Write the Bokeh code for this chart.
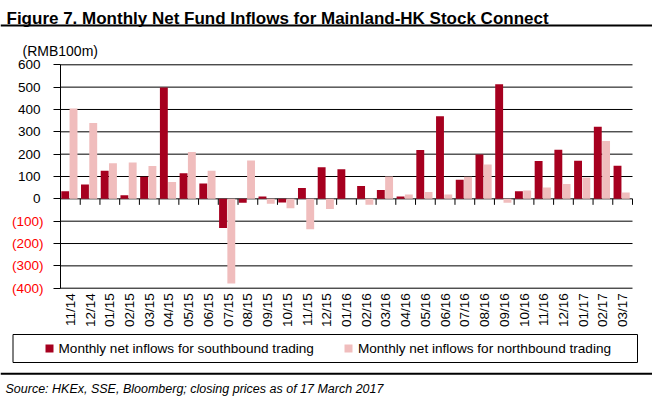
import math
import numpy as np
from bokeh.plotting import figure
from bokeh.models import (Range1d, FixedTicker, Label, ColumnDataSource, LinearAxis,
                          BoxAnnotation, Legend, LegendItem, Span)
from bokeh.embed import file_html
from bokeh.resources import INLINE

# ---------------- data ----------------
months = ["11/14", "12/14",
          "01/15", "02/15", "03/15", "04/15", "05/15", "06/15",
          "07/15", "08/15", "09/15", "10/15", "11/15", "12/15",
          "01/16", "02/16", "03/16", "04/16", "05/16", "06/16",
          "07/16", "08/16", "09/16", "10/16", "11/16", "12/16",
          "01/17", "02/17", "03/17"]
southbound = [34, 64, 126, 16, 99, 498, 115, 69, -130, -18,
              10, -16, 48, 141, 132, 57, 40, 10, 219, 370,
              85, 198, 513, 34, 169, 220, 171, 323, 148]
northbound = [404, 340, 159, 163, 147, 75, 210, 126, -379, 172,
              -22, -42, -136, -45, 0, -27, 100, 19, 31, 19,
              99, 154, -18, 37, 51, 66, 96, 259, 28]
y_ticks = [-400, -300, -200, -100, 0, 100, 200, 300, 400, 500, 600]
title_text = "Figure 7. Monthly Net Fund Inflows for Mainland-HK Stock Connect"
unit_text = "(RMB100m)"
source_text = "Source: HKEx, SSE, Bloomberg; closing prices as of 17 March 2017"
south_label = "Monthly net inflows for southbound trading"
north_label = "Monthly net inflows for northbound trading"

# ---------------- style / layout ----------------
SOUTH = "#A6001F"
NORTH = "#F0BDBD"
RED = "#FF0000"
FONT = "Liberation Sans"
W, H = 652, 396
PLOT_L, PLOT_R = 60.0, 632.0       # pixel extent of the category axis
PLOT_T, PLOT_B = 64.3, 287.7       # pixel rows of the top / bottom tick
n = len(months)
cat_px = (PLOT_R - PLOT_L) / n
val_px = (PLOT_B - PLOT_T) / (y_ticks[-1] - y_ticks[0])
x_start = -0.5 - PLOT_L / cat_px
x_end = n - 0.5 + (W - PLOT_R) / cat_px
y_end = y_ticks[-1] + PLOT_T / val_px
y_start = y_ticks[0] - (H - PLOT_B) / val_px

def sy(px_from_top):
    return H - px_from_top

p = figure(width=W, height=H,
           x_range=Range1d(x_start, x_end), y_range=Range1d(y_start, y_end),
           output_backend="svg", toolbar_location=None, title=None,
           min_border_left=0, min_border_right=0, min_border_top=0, min_border_bottom=0)
p.outline_line_color = None
p.background_fill_color = "white"
p.border_fill_color = "white"
p.xgrid.visible = False
p.ygrid.visible = False

xs = np.arange(n)
src = ColumnDataSource(dict(x_s=xs - 0.26, x_n=xs + 0.16, south=southbound, north=northbound))

# gridlines (behind bars)
gy = np.array(y_ticks, dtype=float)
p.segment(x0=np.full(len(gy), -0.5), x1=np.full(len(gy), n - 0.5), y0=gy, y1=gy,
          line_color="black", line_width=1, level="underlay")

r1 = p.vbar(x="x_s", top="south", width=0.40, source=src, fill_color=SOUTH, line_color=None)
r2 = p.vbar(x="x_n", top="north", width=0.40, source=src, fill_color=NORTH, line_color=None)

# square swatches used only by the legend (a single undrawn NaN point)
leg_src = ColumnDataSource(dict(x=np.array([np.nan]), y=np.array([np.nan])))
s1 = p.scatter(x="x", y="y", source=leg_src, marker="square", size=9,
               fill_color=SOUTH, line_color=None)
s2 = p.scatter(x="x", y="y", source=leg_src, marker="square", size=9,
               fill_color=NORTH, line_color=None)

# tick marks on the zero line at category boundaries
bounds = np.arange(n + 1) - 0.5
tick_len = 6 / val_px
p.segment(x0=bounds, y0=np.zeros(len(bounds)), x1=bounds,
          y1=np.full(len(bounds), -tick_len), line_color="black", line_width=1)

# y axis (positive labels, black)
ya = p.yaxis[0]
ya.fixed_location = -0.5
ya.bounds = (y_ticks[0], y_ticks[-1])
ya.ticker = FixedTicker(ticks=y_ticks)
ya.major_label_overrides = {t: ("" if t < 0 else str(t)) for t in y_ticks}
ya.axis_line_color = "black"
ya.major_tick_line_color = "black"
ya.major_tick_out = 7
ya.major_tick_in = 0
ya.minor_tick_line_color = None
ya.major_label_standoff = 13
ya.major_label_text_font = FONT
ya.major_label_text_font_size = "13.5px"
ya.major_label_text_color = "black"

# second y axis for the negative labels (red, bracketed)
neg_ticks = [t for t in y_ticks if t < 0]
yb = LinearAxis(fixed_location=-0.5, bounds=(y_ticks[0], y_ticks[-1]),
                ticker=FixedTicker(ticks=neg_ticks),
                major_label_overrides={t: "(%d)" % (-t) for t in neg_ticks},
                axis_line_color=None, major_tick_line_color=None,
                minor_tick_line_color=None, major_tick_out=7, major_tick_in=0,
                major_label_standoff=10, major_label_text_font=FONT,
                major_label_text_font_size="13.5px", major_label_text_color=RED)
p.add_layout(yb, "left")

# x axis (month labels) at the bottom tick
xa = p.xaxis[0]
xa.fixed_location = y_ticks[0]
xa.ticker = FixedTicker(ticks=list(xs))
xa.major_label_overrides = {int(i): m for i, m in zip(xs, months)}
xa.major_label_orientation = math.pi / 2
xa.axis_line_color = None
xa.major_tick_line_color = None
xa.minor_tick_line_color = None
xa.major_tick_out = 0
xa.major_tick_in = 0
xa.major_label_standoff = 5
xa.major_label_text_font = FONT
xa.major_label_text_font_size = "13.5px"
xa.major_label_text_color = "black"

# title, unit, source
p.add_layout(Label(x=6, y=sy(18.3), x_units="screen", y_units="screen",
                   text=title_text, text_font=FONT, text_font_style="bold",
                   text_font_size="17px", text_baseline="alphabetic", text_align="left",
                   text_color="black"))
p.add_layout(Label(x=22, y=sy(50.7), x_units="screen", y_units="screen",
                   text=unit_text, text_font=FONT, text_font_size="14px",
                   text_baseline="alphabetic", text_align="left", text_color="black"))
p.add_layout(Label(x=5, y=sy(388.3), x_units="screen", y_units="screen",
                   text=source_text, text_font=FONT, text_font_style="italic",
                   text_font_size="12.5px", text_baseline="alphabetic", text_align="left",
                   text_color="black"))

# horizontal rules
p.add_layout(Span(location=sy(25), location_units="screen", dimension="width",
                  line_color="black", line_width=2))
p.add_layout(Span(location=sy(373.3), location_units="screen", dimension="width",
                  line_color="black", line_width=2))

# legend border
p.add_layout(BoxAnnotation(left=12.5, right=637, top=sy(334), bottom=sy(362),
                           left_units="screen", right_units="screen",
                           top_units="screen", bottom_units="screen",
                           fill_alpha=0, line_color="black", line_width=1,
                           line_alpha=1))

legend = Legend(items=[LegendItem(label=south_label, renderers=[s1]),
                       LegendItem(label=north_label, renderers=[s2])],
                orientation="horizontal", location=(38.5, sy(359.25)),
                padding=0, margin=0, spacing=24, label_standoff=0,
                glyph_width=20, glyph_height=22, label_height=22,
                label_text_font=FONT, label_text_font_size="13.6px",
                label_text_color="black",
                border_line_color=None, background_fill_alpha=0)
p.add_layout(legend)

open("out.html", "w").write(file_html(p, INLINE))
